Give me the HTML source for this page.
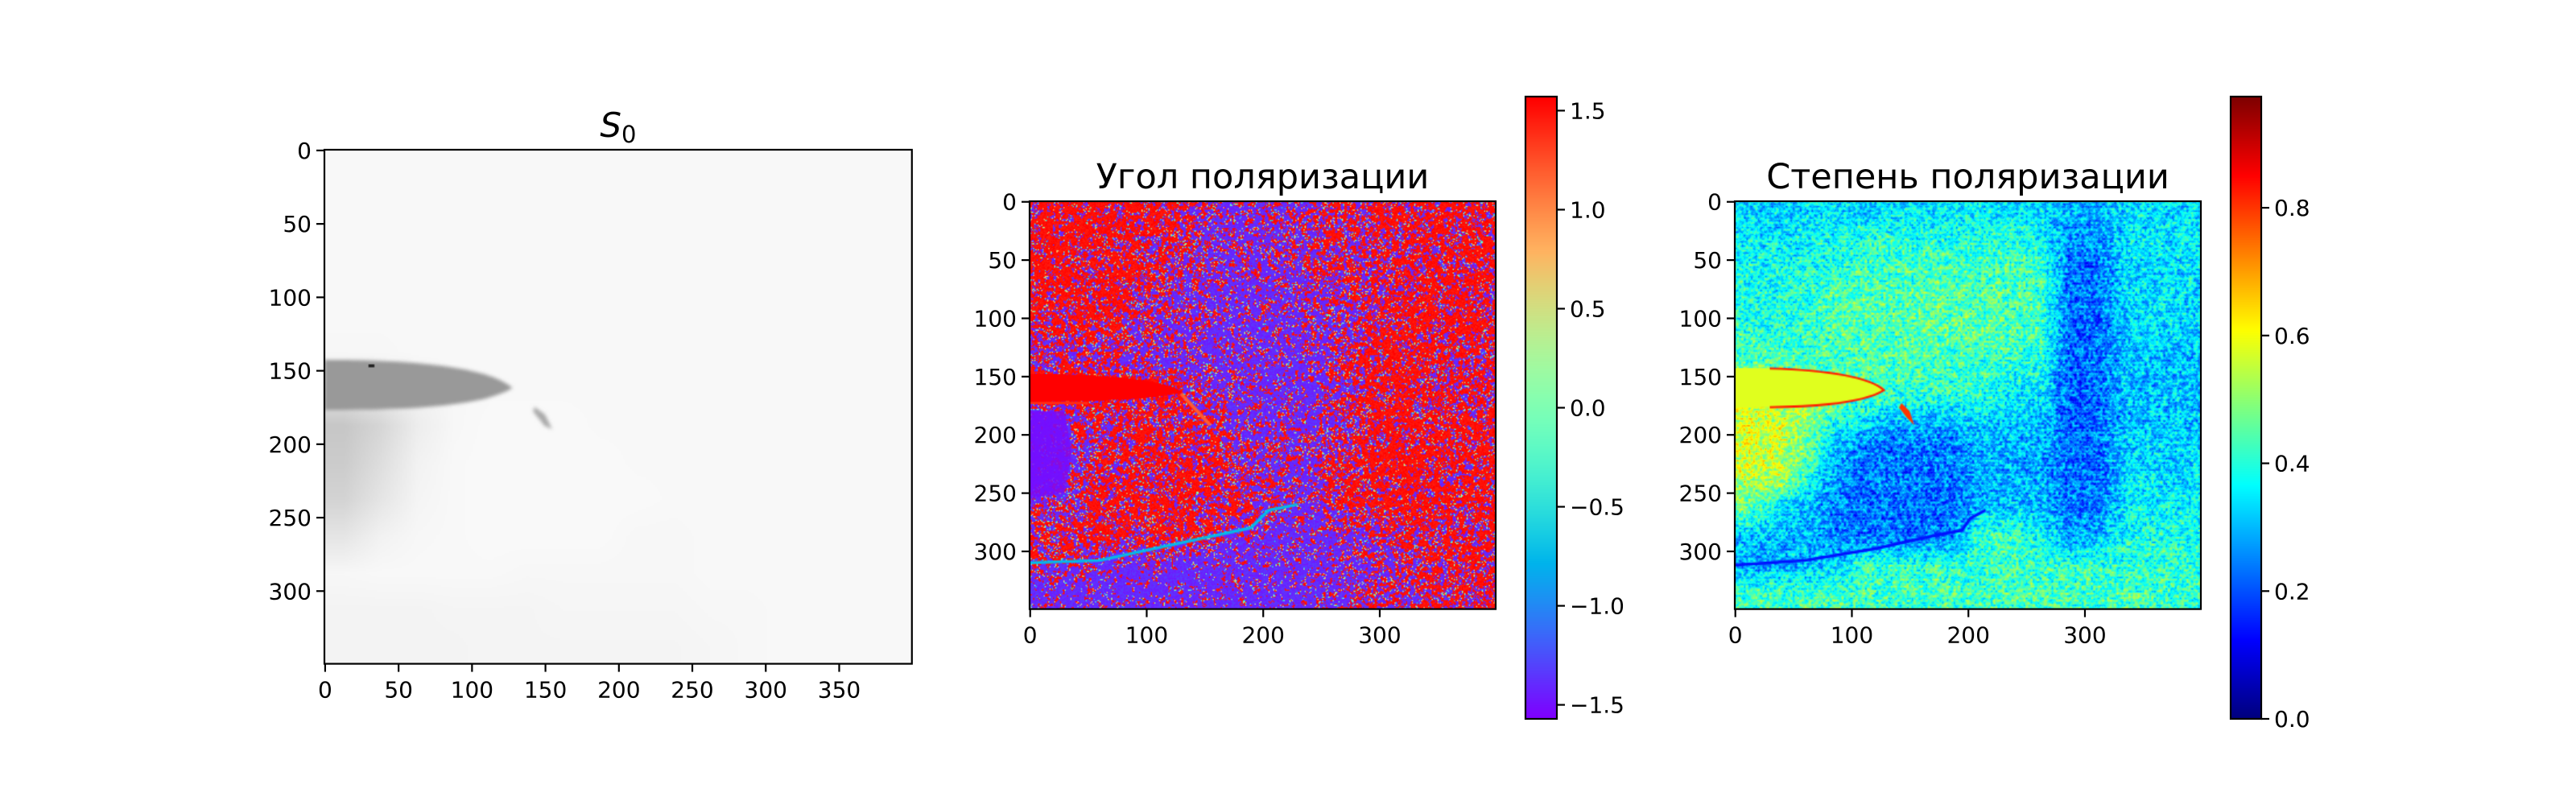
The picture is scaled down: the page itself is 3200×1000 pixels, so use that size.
<!DOCTYPE html>
<html><head><meta charset="utf-8">
<style>
html,body{margin:0;padding:0;background:#fff;}
#root{position:relative;width:3200px;height:1000px;overflow:hidden;font-family:"DejaVu Sans","Liberation Sans","Noto Sans CJK SC",sans-serif;}
canvas{position:absolute;}
svg{position:absolute;left:0;top:0;}
</style></head>
<body>
<div id="root">
<canvas id="c1"></canvas>
<canvas id="c2"></canvas>
<canvas id="c3"></canvas>
<canvas id="cb2"></canvas>
<canvas id="cb3"></canvas>
<svg id="ov" width="3200" height="1000"></svg>
</div>
<script>
const s0Grid = [
[.975,.975,.975,.975,.975,.975,.975,.975,.975,.975,.975,.975,.975,.975,.975,.975],
[.975,.975,.975,.975,.975,.975,.975,.975,.975,.975,.975,.975,.975,.975,.975,.975],
[.975,.975,.975,.975,.975,.975,.975,.975,.975,.975,.975,.975,.975,.975,.975,.975],
[.975,.975,.975,.975,.975,.975,.975,.975,.975,.975,.975,.975,.975,.975,.975,.975],
[.975,.975,.975,.975,.975,.975,.975,.975,.975,.975,.975,.975,.975,.975,.975,.975],
[.97,.97,.975,.975,.975,.975,.975,.975,.975,.975,.975,.975,.975,.975,.975,.975],
[.9,.92,.95,.97,.975,.975,.975,.975,.975,.975,.975,.975,.975,.975,.975,.975],
[.78,.84,.93,.97,.98,.98,.98,.975,.975,.975,.975,.975,.975,.975,.975,.975],
[.8,.87,.95,.975,.98,.98,.98,.98,.975,.975,.975,.975,.975,.975,.975,.975],
[.83,.9,.96,.975,.98,.98,.98,.98,.98,.975,.975,.975,.975,.975,.975,.975],
[.9,.95,.97,.975,.98,.98,.98,.98,.97,.97,.975,.975,.975,.975,.975,.975],
[.97,.975,.975,.975,.975,.97,.97,.97,.97,.97,.975,.975,.975,.975,.975,.975],
[.955,.955,.955,.96,.96,.96,.965,.965,.965,.965,.97,.97,.975,.975,.975,.975],
[.955,.955,.955,.955,.96,.96,.96,.96,.96,.96,.965,.97,.975,.975,.975,.975]];
const s0Needle = {x0:0, yTop:143, yBot:177, tipX:128, tipY:162};
const s0NeedleValue = 0.6;
const s0Spot = [32,147];
const s0Streak = [[143,175],[150,180],[155,190],[150,188],[142,178]];

const angleRedFraction = [
[.8,.8,.8,.75,.7,.55,.4,.3,.4,.5,.6,.65,.7,.7,.7,.7],
[.8,.8,.75,.7,.6,.45,.3,.3,.3,.45,.55,.6,.6,.7,.7,.65],
[.8,.8,.8,.75,.55,.35,.3,.25,.25,.35,.45,.55,.6,.7,.7,.7],
[.75,.8,.75,.7,.5,.3,.25,.25,.25,.3,.45,.6,.7,.75,.75,.7],
[.6,.6,.6,.5,.35,.3,.25,.2,.25,.3,.4,.6,.75,.75,.7,.7],
[.5,.45,.45,.4,.35,.3,.25,.2,.25,.3,.4,.65,.8,.7,.6,.6],
[.8,.8,.8,.8,.7,.4,.3,.25,.25,.3,.4,.65,.8,.7,.65,.6],
[.05,.5,.6,.65,.65,.55,.45,.3,.25,.3,.45,.7,.8,.75,.7,.7],
[.05,.4,.65,.7,.7,.7,.6,.4,.3,.35,.55,.75,.8,.75,.7,.7],
[.1,.5,.7,.75,.75,.75,.7,.55,.4,.4,.6,.75,.8,.75,.7,.75],
[.35,.6,.7,.75,.75,.75,.7,.6,.4,.35,.5,.7,.75,.7,.7,.75],
[.6,.7,.7,.7,.7,.6,.4,.25,.2,.2,.25,.4,.55,.6,.65,.7],
[.5,.45,.3,.2,.15,.12,.12,.12,.15,.2,.25,.35,.45,.5,.55,.65],
[.1,.1,.1,.1,.1,.1,.1,.12,.15,.2,.3,.4,.5,.55,.6,.65]];
const angleNeedle = {x0:0, yTop:148, yBot:172, tipX:132, tipY:164};
const angleLowLeft = [[0,180],[30,180],[36,215],[30,250],[0,255]];
const angleCurve = [[0,310],[60,308],[120,295],[190,280],[205,265],[230,260]];
const angleDiag = [[130,165],[155,192]];
const angleHigh = 1.5708, angleLow = -1.42;

const degreeGrid = [
[.33,.33,.33,.33,.33,.34,.34,.34,.34,.34,.33,.28,.28,.33,.33,.33],
[.35,.35,.36,.37,.4,.4,.4,.4,.4,.4,.37,.25,.25,.34,.34,.34],
[.37,.37,.38,.4,.42,.42,.43,.43,.42,.42,.41,.22,.22,.33,.33,.33],
[.38,.38,.4,.43,.44,.44,.44,.44,.44,.43,.42,.22,.22,.33,.33,.33],
[.4,.4,.41,.43,.44,.44,.44,.44,.44,.43,.42,.2,.22,.32,.32,.32],
[.43,.43,.42,.42,.42,.42,.42,.42,.41,.4,.38,.2,.22,.3,.3,.3],
[.56,.56,.55,.5,.43,.41,.41,.41,.4,.35,.35,.2,.22,.3,.3,.3],
[.56,.55,.5,.38,.34,.3,.3,.32,.32,.32,.3,.2,.22,.3,.3,.3],
[.56,.55,.45,.3,.22,.22,.22,.22,.28,.28,.28,.22,.22,.32,.32,.32],
[.54,.52,.4,.26,.22,.22,.22,.22,.28,.28,.28,.22,.22,.33,.33,.33],
[.46,.34,.3,.24,.22,.22,.22,.22,.3,.3,.3,.22,.22,.35,.35,.35],
[.3,.3,.28,.24,.22,.22,.22,.24,.42,.42,.38,.26,.3,.38,.38,.38],
[.28,.28,.3,.32,.4,.4,.4,.4,.4,.42,.4,.4,.4,.4,.4,.4],
[.42,.42,.42,.42,.42,.42,.42,.42,.42,.42,.42,.42,.42,.42,.42,.4]];
const degreeNeedle = {x0:0, yTop:143, yBot:177, tipX:128, tipY:162};
const degreeNeedleValue = 0.58;
const degreeStreak = [[143,173],[150,180],[154,192],[148,186],[141,177]];
const degreeCurve = [[0,312],[60,308],[120,298],[170,287],[195,282],[202,272],[215,265]];

const xTicksS0 = [0,50,100,150,200,250,300,350];
const yTicksS0 = [0,50,100,150,200,250,300];
const xTicksPol = [0,100,200,300];
const yTicksPol = [0,50,100,150,200,250,300];
const angleCbTicks = [1.5,1.0,0.5,0.0,-0.5,-1.0,-1.5];
const degreeCbTicks = [0.0,0.2,0.4,0.6,0.8];
const imgW = 400, imgH = 350;

const P1 = {l:403, t:186, s:1.8245};
const P2 = {l:1279, t:250, s:1.4475};
const P3 = {l:2155, t:250, s:1.4475};
const CB2 = {l:1895, r:1934, t:120, b:893, vmin:-1.5708, vmax:1.5708};
const CB3 = {l:2771, r:2809, t:120, b:893, vmin:0, vmax:0.974};

function clamp(v){return Math.max(0,Math.min(1,v));}
function jet(x){x=clamp(x);
  const r=clamp(1.5-Math.abs(4*x-3)), g=clamp(1.5-Math.abs(4*x-2)), b=clamp(1.5-Math.abs(4*x-1));
  return [r*255|0,g*255|0,b*255|0];}
function rainbow(x){x=clamp(x);
  return [clamp(Math.abs(2*x-0.5))*255|0, clamp(Math.sin(Math.PI*x))*255|0, clamp(Math.cos(Math.PI*x/2))*255|0];}
function hash(i,j,k){let h=(i*374761393+j*668265263+k*2147483647)|0;h=(h^(h>>>13))*1274126177|0;h=h^(h>>>16);return ((h>>>0)%10000)/10000;}
function vnoise(x,y,sc,k){const gx=x/sc,gy=y/sc,x0=Math.floor(gx),y0=Math.floor(gy),fx=gx-x0,fy=gy-y0;
  const sx=fx*fx*(3-2*fx),sy=fy*fy*(3-2*fy);
  const a=hash(x0,y0,k),b=hash(x0+1,y0,k),c=hash(x0,y0+1,k),d=hash(x0+1,y0+1,k);
  return a*(1-sx)*(1-sy)+b*sx*(1-sy)+c*(1-sx)*sy+d*sx*sy;}
function grid(g,x,y){
  let gx=x/25-0.5, gy=y/25-0.5;
  gx=Math.max(0,Math.min(15,gx)); gy=Math.max(0,Math.min(13,gy));
  const x0=Math.floor(gx),y0=Math.floor(gy),x1=Math.min(15,x0+1),y1=Math.min(13,y0+1),fx=gx-x0,fy=gy-y0;
  return g[y0][x0]*(1-fx)*(1-fy)+g[y0][x1]*fx*(1-fy)+g[y1][x0]*(1-fx)*fy+g[y1][x1]*fx*fy;}
function setup(id,P){const c=document.getElementById(id);c.width=imgW;c.height=imgH;
  c.style.left=P.l+'px';c.style.top=P.t+'px';c.style.width=(imgW*P.s)+'px';c.style.height=(imgH*P.s)+'px';
  return c.getContext('2d');}
function poly(ctx,pts){ctx.beginPath();pts.forEach((p,i)=>i?ctx.lineTo(p[0],p[1]):ctx.moveTo(p[0],p[1]));ctx.closePath();}
function line(ctx,pts){ctx.beginPath();pts.forEach((p,i)=>i?ctx.lineTo(p[0],p[1]):ctx.moveTo(p[0],p[1]));}
function needle(ctx,N){ctx.beginPath();ctx.moveTo(N.x0,N.yTop);
  ctx.bezierCurveTo(N.x0+N.tipX*0.6,N.yTop,N.tipX*0.9,N.yTop+(N.tipY-N.yTop)*0.4,N.tipX,N.tipY);
  ctx.bezierCurveTo(N.tipX*0.85,N.yBot-3,N.tipX*0.5,N.yBot,N.x0,N.yBot);ctx.closePath();}

(function(){const ctx=setup('c1',P1);const im=ctx.createImageData(imgW,imgH);
  for(let y=0;y<imgH;y++)for(let x=0;x<imgW;x++){const v=grid(s0Grid,x,y);const c=clamp(v)*255|0;const k=(y*imgW+x)*4;
    im.data[k]=im.data[k+1]=im.data[k+2]=c;im.data[k+3]=255;}
  ctx.putImageData(im,0,0);
  ctx.filter='blur(1.2px)';
  const g=s0NeedleValue*255|0;ctx.fillStyle=`rgb(${g},${g},${g})`;needle(ctx,s0Needle);ctx.fill();
  ctx.fillStyle='rgb(170,170,170)';poly(ctx,s0Streak);ctx.fill();
  ctx.filter='none';ctx.fillStyle='#222';ctx.fillRect(s0Spot[0]-2,s0Spot[1]-1,4,2);
})();

(function(){const ctx=setup('c2',P2);const n=v=>(v-CB2.vmin)/(CB2.vmax-CB2.vmin);
  for(let y=0;y<imgH;y++)for(let x=0;x<imgW;x++){const p=grid(angleRedFraction,x+.5,y+.5);
    let r=0.65*vnoise(x,y,2.6,1)+0.35*hash(x,y,9);
    r=clamp((r-0.5)*1.9+0.5);
    let v;
    if(Math.abs(r-p)<0.035) v=-0.7+1.6*hash(x,y,3);
    else if(r<p) v=angleHigh-0.12*hash(x,y,2); else v=angleLow+0.18*hash(x,y,4)-0.08;
    const c=rainbow(n(v));ctx.fillStyle=`rgb(${c})`;ctx.fillRect(x,y,1,1);}
  let c=rainbow(n(angleHigh));ctx.fillStyle=`rgb(${c})`;needle(ctx,angleNeedle);ctx.fill();
  ctx.globalAlpha=0.85;c=rainbow(n(-1.52));ctx.fillStyle=`rgb(${c})`;poly(ctx,angleLowLeft);ctx.fill();ctx.globalAlpha=1;
  ctx.lineWidth=2.5;c=rainbow(n(-0.75));ctx.strokeStyle=`rgb(${c})`;line(ctx,angleCurve);ctx.stroke();
  c=rainbow(n(1.2));ctx.strokeStyle=`rgb(${c})`;ctx.lineWidth=3;line(ctx,angleDiag);ctx.stroke();
  c=rainbow(n(1.4));ctx.strokeStyle=`rgb(${c})`;ctx.lineWidth=2;line(ctx,[[0,173],[50,173]]);ctx.stroke();
})();

(function(){const ctx=setup('c3',P3);const n=v=>(v-CB3.vmin)/(CB3.vmax-CB3.vmin);
  for(let y=0;y<imgH;y++)for(let x=0;x<imgW;x++){let v=grid(degreeGrid,x+.5,y+.5)+(vnoise(x,y,2,7)-0.5)*0.22+(hash(x,y,8)-0.5)*0.08;
    if(y%3===0) v+=0.025;
    const c=jet(n(v));ctx.fillStyle=`rgb(${c})`;ctx.fillRect(x,y,1,1);}
  let c=jet(n(degreeNeedleValue));ctx.fillStyle=`rgb(${c})`;needle(ctx,degreeNeedle);ctx.fill();
  c=jet(n(0.82));ctx.strokeStyle=`rgb(${c})`;ctx.lineWidth=1.8;
  ctx.save();ctx.beginPath();ctx.rect(30,0,120,350);ctx.clip();needle(ctx,degreeNeedle);ctx.stroke();ctx.restore();
  ctx.fillStyle=`rgb(${jet(n(0.8))})`;poly(ctx,degreeStreak);ctx.fill();
  c=jet(n(0.14));ctx.strokeStyle=`rgb(${c})`;ctx.lineWidth=2.5;line(ctx,degreeCurve);ctx.stroke();
})();

function cbar(id,CB,cmap){const c=document.getElementById(id);c.width=1;c.height=256;
  c.style.left=CB.l+'px';c.style.top=CB.t+'px';c.style.width=(CB.r-CB.l)+'px';c.style.height=(CB.b-CB.t)+'px';
  const ctx=c.getContext('2d');for(let i=0;i<256;i++){const col=cmap(1-i/255);ctx.fillStyle=`rgb(${col})`;ctx.fillRect(0,i,1,1);}}
cbar('cb2',CB2,rainbow);cbar('cb3',CB3,jet);

const svg=document.getElementById('ov');const NS='http://www.w3.org/2000/svg';
function el(tag,attrs,txt){const e=document.createElementNS(NS,tag);for(const k in attrs)e.setAttribute(k,attrs[k]);if(txt!==undefined)e.textContent=txt;svg.appendChild(e);return e;}
function fmt(v,d){const s=Math.abs(v).toFixed(d);return (v<0?'\u2212':'')+s;}
function axes(P,xt,yt,name){const w=imgW*P.s,h=imgH*P.s;
  const f=el('rect',{x:P.l,y:P.t,width:w,height:h,fill:'none',stroke:'#000','stroke-width':2.2});
  
  
  xt.forEach(v=>{const x=P.l+(v+0.5)*P.s;
    const t=el('line',{x1:x,x2:x,y1:P.t+h,y2:P.t+h+10,stroke:'#000','stroke-width':2.2});
    
    
    const l=el('text',{x:x,y:P.t+h+42,'font-size':28,'text-anchor':'middle'},String(v));
    
    });
  yt.forEach(v=>{const y=P.t+(v+0.5)*P.s;
    const t=el('line',{x1:P.l-10,x2:P.l,y1:y,y2:y,stroke:'#000','stroke-width':2.2});
    
    
    const l=el('text',{x:P.l-16,y:y+10,'font-size':28,'text-anchor':'end'},String(v));
    
    });}
axes(P1,xTicksS0,yTicksS0,'s0');axes(P2,xTicksPol,yTicksPol,'angle');axes(P3,xTicksPol,yTicksPol,'degree');
function cbAxes(CB,ticks,d,name){
  const f=el('rect',{x:CB.l,y:CB.t,width:CB.r-CB.l,height:CB.b-CB.t,fill:'none',stroke:'#000','stroke-width':2.2});
  
  
  ticks.forEach(v=>{const y=CB.b-(v-CB.vmin)/(CB.vmax-CB.vmin)*(CB.b-CB.t);
    const t=el('line',{x1:CB.r,x2:CB.r+10,y1:y,y2:y,stroke:'#000','stroke-width':2.2});
    
    
    const l=el('text',{x:CB.r+16,y:y+10,'font-size':28},fmt(v,d));
    
    });}
cbAxes(CB2,angleCbTicks,1,'angle-colorbar');cbAxes(CB3,degreeCbTicks,1,'degree-colorbar');
const t1=el('text',{x:P1.l+imgW*P1.s/2,y:170,'font-size':42,'text-anchor':'middle'});


const ts=document.createElementNS(NS,'tspan');ts.setAttribute('font-style','italic');ts.textContent='S';t1.appendChild(ts);
const ts2=document.createElementNS(NS,'tspan');ts2.setAttribute('font-size',29);ts2.setAttribute('dy',7);ts2.textContent='0';t1.appendChild(ts2);
const t2=el('text',{x:P2.l+imgW*P2.s/2,y:234,'font-size':43,'text-anchor':'middle'},'Угол поляризации');


const t3=el('text',{x:P3.l+imgW*P3.s/2,y:234,'font-size':43,'text-anchor':'middle'},'Степень поляризации');


</script>
</body></html>
